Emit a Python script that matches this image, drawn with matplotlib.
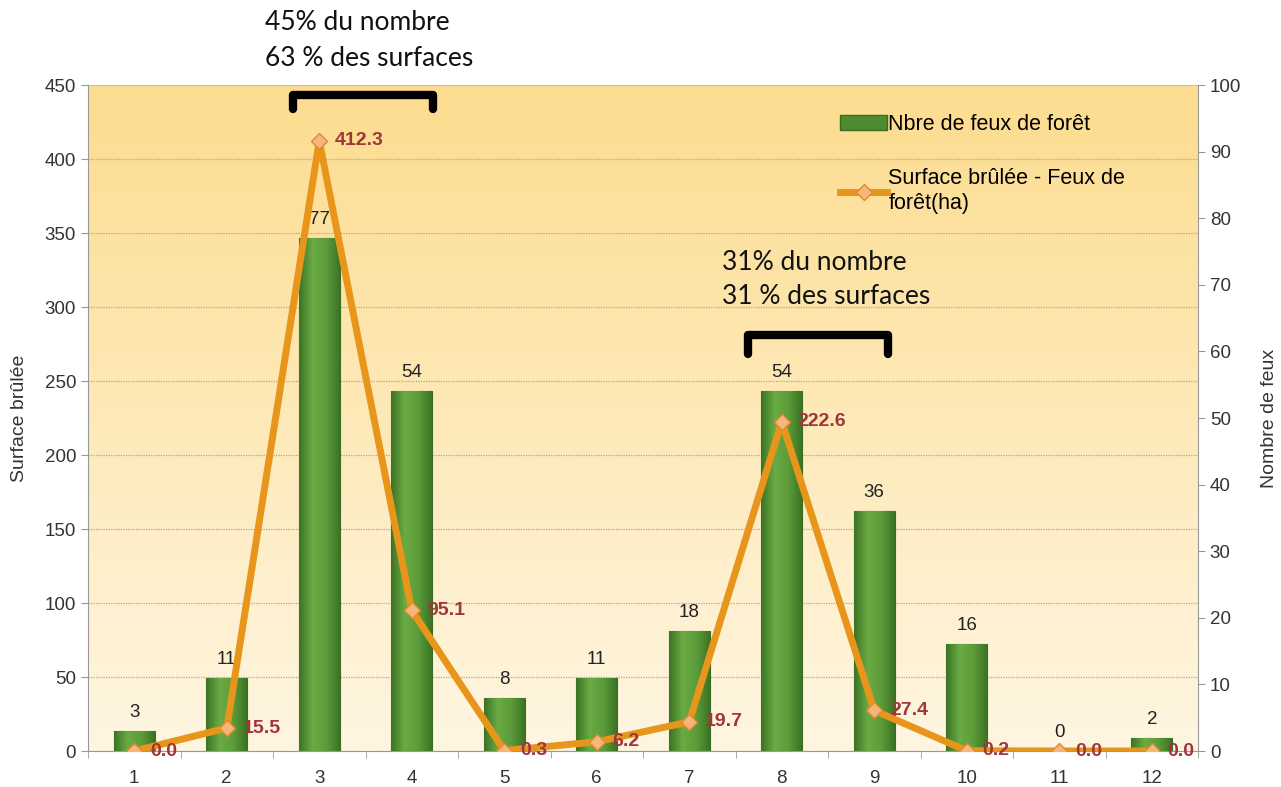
import numpy as np
import matplotlib
matplotlib.use("Agg")
import matplotlib.pyplot as plt
from matplotlib.patches import Patch
from matplotlib.lines import Line2D
from matplotlib.colors import LinearSegmentedColormap

# data
mois = ['1', '2', '3', '4', '5', '6', '7', '8', '9', '10', '11', '12']
nb_feux = [3, 11, 77, 54, 8, 11, 18, 54, 36, 16, 0, 2]
surface = [0.0, 15.5, 412.3, 95.1, 0.3, 6.2, 19.7, 222.6, 27.4, 0.2, 0.0, 0.0]

plt.rcParams['font.family'] = ['Liberation Sans', 'DejaVu Sans']

fig = plt.figure(figsize=(12.81, 7.87), dpi=100)
ax = fig.add_axes([88 / 1281, 1 - 751 / 787, 1110 / 1281, 666 / 787])
x = np.arange(len(mois))

# background gradient
bg = LinearSegmentedColormap.from_list('bg', ['#fff6e2', '#fcdc8e'])
ax.imshow(np.linspace(0, 1, 256).reshape(-1, 1), cmap=bg, aspect='auto',
          extent=[-0.5, 11.5, 0, 450], origin='lower', zorder=0)
ax.set_xlim(-0.5, 11.5)
ax.set_ylim(0, 450)
ax.set_yticks(np.arange(0, 451, 50))
ax.yaxis.grid(True, color='#b0a890', linestyle=(0, (1, 1)), linewidth=0.9)
ax.set_axisbelow(True)
ax.set_xticks(x)
ax.set_xticklabels(mois)
ax.set_xticks(np.arange(-0.5, 12, 1), minor=True)
ax.tick_params(axis='x', which='major', length=0, labelsize=13.5, pad=14)
ax.tick_params(axis='x', which='minor', length=5, color='#999999')
ax.tick_params(axis='y', labelsize=13.5, length=5, color='#999999', labelcolor='#333333')
ax.tick_params(axis='x', labelcolor='#333333')
ax.set_ylabel('Surface brûlée', fontsize=14, labelpad=12, color='#333333')
for s in ['top', 'right']:
    ax.spines[s].set_visible(False)
for s in ['left', 'bottom']:
    ax.spines[s].set_color('#999999')

# bars on right axis
ax2 = ax.twinx()
ax2.set_ylim(0, 100)
ax2.set_yticks(np.arange(0, 101, 10))
ax2.tick_params(axis='y', labelsize=13.5, length=5, color='#999999', labelcolor='#333333')
ax2.set_ylabel('Nombre de feux', fontsize=14, labelpad=14, color='#333333')
for s in ['top', 'left', 'bottom']:
    ax2.spines[s].set_visible(False)
ax2.spines['right'].set_color('#999999')

bars = ax2.bar(x, nb_feux, width=0.44, color='#4f8c30', edgecolor='#3a6b22',
               linewidth=0.8, zorder=2)
green = LinearSegmentedColormap.from_list('gr', ['#3c7424', '#6aab44', '#5c9c3a', '#3c7424'])
for b in bars:
    if b.get_height() <= 0:
        continue
    im = ax2.imshow(np.linspace(0, 1, 64).reshape(1, -1), cmap=green, aspect='auto',
                    extent=[b.get_x(), b.get_x() + b.get_width(), 0, b.get_height()],
                    zorder=2.1)
    im.set_clip_path(b)
ax2.set_xlim(-0.5, 11.5)
ax2.set_ylim(0, 100)
for xi, v in zip(x, nb_feux):
    ax2.text(xi, v + 1.5, str(v), ha='center', va='bottom', fontsize=13.5, color='#222222', zorder=3)

# line on top
ax3 = ax.twinx()
ax3.set_ylim(0, 450)
ax3.set_xlim(-0.5, 11.5)
ax3.axis('off')
ax3.plot(x, surface, color='#e8951c', linewidth=5, zorder=4, solid_joinstyle='round')
ax3.plot(x, surface, linestyle='none', marker='D', markersize=8,
         markerfacecolor='#f6b57a', markeredgecolor='#e08a2a', zorder=5)
for xi, v in zip(x, surface):
    ax3.text(xi + 0.17, v, '%.1f' % v, ha='left', va='center', fontsize=14,
             fontweight='bold', color='#a0353a', zorder=6)

# brackets
def bracket(x0, x1, y_top, y_bot):
    ax3.plot([x0, x0, x1, x1], [y_bot, y_top, y_top, y_bot], color='black',
             linewidth=6, solid_capstyle='round', solid_joinstyle='round',
             clip_on=False, zorder=7)

bracket(1.72, 3.23, 443, 434)
bracket(6.64, 8.15, 281, 268)

notes = [(265, 22, '45% du nombre'), (265, 58, '63 % des surfaces'),
         (722, 263, '31% du nombre'), (722, 297, '31 % des surfaces')]
for px, py, txt in notes:
    fig.text(px / 1281, 1 - py / 787, txt, fontsize=19, family=['Lato', 'DejaVu Sans'],
             va='center', ha='left', color='#111111')

# legend
handles = [Patch(facecolor='#4f8c30', edgecolor='#3a6b22'),
           Line2D([0], [0], color='#e8951c', linewidth=5, marker='D', markersize=8,
                  markerfacecolor='#f6b57a', markeredgecolor='#e08a2a')]
labels = ['Nbre de feux de forêt', 'Surface brûlée - Feux de\nforêt(ha)']
leg = ax3.legend(handles, labels, loc='upper left', bbox_to_anchor=(0.66, 0.985), frameon=False,
                 fontsize=15.5, handlelength=2.2, handletextpad=0.05, labelspacing=1.5)
for t in leg.get_texts():
    t.set_linespacing(1.3)

fig.savefig('out.png', dpi=100)
